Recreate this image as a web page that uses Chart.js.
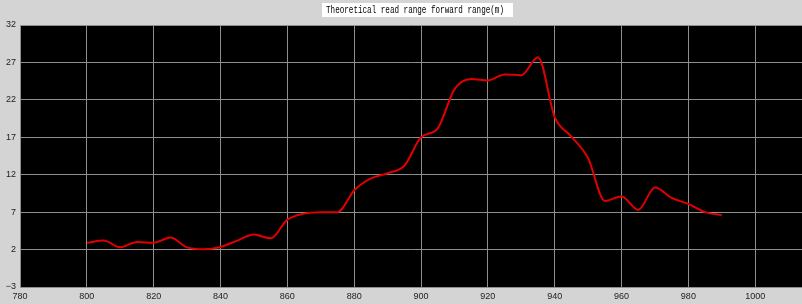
<!DOCTYPE html>
<html>
<head>
<meta charset="utf-8">
<script src="https://cdn.jsdelivr.net/npm/chart.js@4/dist/chart.umd.min.js"></script>
<style>
  html, body { margin: 0; padding: 0; background: #d4d4d4; }
  #wrap { width: 802px; height: 304px; }
</style>
</head>
<body>
<div id="wrap"><canvas id="rangeChart"></canvas></div>
<script>
// frequency (MHz) and theoretical forward read range (m)
const freqs = [800, 805, 810, 815, 820, 825, 830, 835, 840, 845, 850, 855, 860, 865, 870, 875,
               880, 885, 890, 895, 900, 905, 910, 915, 920, 925, 930, 935, 940, 945, 950, 955,
               960, 965, 970, 975, 980, 985, 990];
const ranges = [2.9, 3.2, 2.3, 3.0, 2.9, 3.6, 2.3, 2.05, 2.35, 3.2, 4.0, 3.5, 6.0, 6.8, 7.0, 7.0,
                9.9, 11.5, 12.2, 13.2, 17.0, 18.2, 23.4, 24.8, 24.6, 25.4, 25.3, 27.7, 19.7, 17.1, 14.2, 8.5,
                9.1, 7.3, 10.3, 8.9, 8.1, 7.0, 6.6];
const titleText = 'Theoretical read range forward range(m)';

// black plot area + boxed title
const backdrop = {
    id: 'backdrop',
    beforeDraw(chart) {
        const a = chart.chartArea;
        const ctx = chart.ctx;
        ctx.save();
        ctx.fillStyle = '#000000';
        ctx.fillRect(a.left, a.top, a.right - a.left, a.bottom - a.top);
        ctx.restore();
    },
    afterDraw(chart) {
        const ctx = chart.ctx;
        ctx.save();
        ctx.fillStyle = '#ffffff';
        ctx.fillRect(322, 3, 191, 14);
        ctx.fillStyle = '#000000';
        ctx.font = '10px "Liberation Mono"';
        ctx.textBaseline = 'middle';
        ctx.textAlign = 'left';
        ctx.fillText(titleText, 326, 10.5, 178);
        ctx.restore();
    }
};

const ctx = document.getElementById('rangeChart').getContext('2d');
const rangeChart = new Chart(ctx, {
    type: 'line',
    data: {
        datasets: [{
            label: 'range',
            data: freqs.map((f, i) => ({ x: f, y: ranges[i] })),
            borderColor: '#e00000',
            borderWidth: 2,
            pointRadius: 0,
            cubicInterpolationMode: 'monotone',
            fill: false
        }]
    },
    options: {
        responsive: true,
        maintainAspectRatio: false,
        animation: false,
        layout: { padding: { top: 25, right: 0, left: 0, bottom: 0 } },
        plugins: {
            legend: { display: false },
            title: { display: false },
            tooltip: { enabled: false }
        },
        scales: {
            x: {
                type: 'linear',
                min: 780,
                max: 1014,
                afterBuildTicks: (scale) => {
                    scale.ticks = scale.ticks.filter(t => t.value % 20 === 0);
                },
                afterFit: (scale) => { scale.height = 17; },
                ticks: {
                    stepSize: 20,
                    padding: 4,
                    color: '#222222',
                    font: { family: '"Liberation Sans"', size: 9 },
                    callback: (v) => String(v)
                },
                grid: { color: '#8f8f8f', drawTicks: false, lineWidth: 1 },
                border: { color: '#8f8f8f' }
            },
            y: {
                min: -3,
                max: 32,
                afterFit: (scale) => { scale.width = 20; },
                ticks: {
                    stepSize: 5,
                    padding: 4,
                    color: '#222222',
                    font: { family: '"Liberation Sans"', size: 9 },
                    callback: (v) => String(v).replace('-', '\u2212')
                },
                grid: { color: '#8f8f8f', drawTicks: false, lineWidth: 1 },
                border: { color: '#8f8f8f' }
            }
        }
    },
    plugins: [backdrop]
});
</script>
</body>
</html>
